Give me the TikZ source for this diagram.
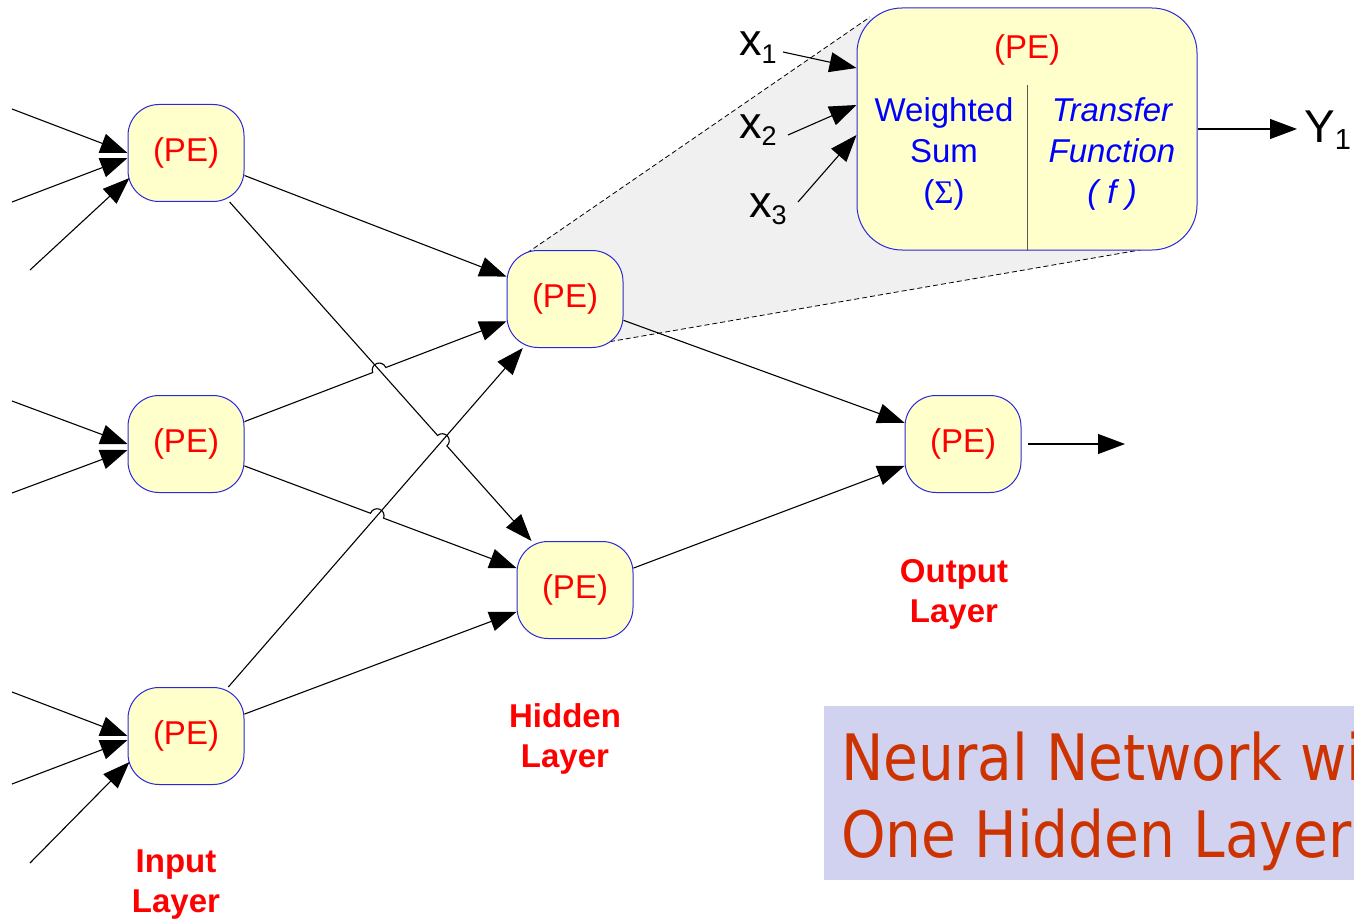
\documentclass[tikz,border=0pt]{standalone}
\usepackage{fontspec}
\setmainfont{Liberation Sans}
\newfontfamily\titlefont[FakeStretch=0.885]{DejaVu Sans}
\newfontfamily\serifsym{Liberation Serif}
\usetikzlibrary{arrows.meta,calc,intersections}
\definecolor{pefill}{RGB}{255,255,204}
\definecolor{peborder}{RGB}{40,40,220}
\definecolor{pered}{RGB}{255,0,0}
\definecolor{peblue}{RGB}{0,0,255}
\definecolor{zoomgray}{RGB}{240,240,240}
\definecolor{titlebg}{RGB}{208,210,240}
\definecolor{titlefg}{RGB}{204,51,0}
\definecolor{divider}{RGB}{90,90,80}
\begin{document}
\begin{tikzpicture}[x=1pt,y=1pt,
 pe/.style={draw=peborder, line width=1pt, fill=pefill, rounded corners=31pt, minimum width=116pt, minimum height=97pt, inner sep=0pt, text=pered, font=\fontsize{33}{33}\selectfont},
 bigpe/.style={draw=peborder, line width=1pt, fill=pefill, rounded corners=45pt, minimum width=340pt, minimum height=242pt, inner sep=0pt},
 conn/.style={line width=1.1pt, -{Triangle[length=27pt,width=20pt]}},
 layerlbl/.style={text=pered, font=\fontsize{33}{33}\selectfont\bfseries, anchor=base, inner sep=0pt},
 bluetxt/.style={text=peblue, font=\fontsize{33}{33}\selectfont, anchor=base, inner sep=0pt},
 bluetxtit/.style={bluetxt, font=\fontsize{33}{33}\selectfont\itshape},
 zoomline/.style={line width=0.8pt, dash pattern=on 5pt off 3pt},
 lbl/.style={anchor=base west, inner sep=0pt},
 titletxt/.style={anchor=base west, inner sep=0pt, text=titlefg, font=\titlefont\fontsize{64}{64}\selectfont}
]
\useasboundingbox (0,0) rectangle (1354,-920);

% zoom wedge
\coordinate (z1) at (527,-253);
\coordinate (z2) at (870,-17);
\coordinate (z3) at (1163,-246);
\coordinate (z4) at (602,-343);
\fill[zoomgray] (z1) -- (z2) -- (z3) -- (z4) -- cycle;
\draw[zoomline] (z1) -- (z2);
\draw[zoomline] (z4) -- (z3);

% nodes
\node[pe] (I1) at (186,-153) {(PE)};
\node[pe] (I2) at (186,-444) {(PE)};
\node[pe] (I3) at (186,-736) {(PE)};
\node[pe] (H1) at (565,-299) {(PE)};
\node[pe] (H2) at (575,-590) {(PE)};
\node[pe] (O) at (963,-444) {(PE)};
\node[bigpe] (BP) at (1027,-129) {};

% big PE contents
\node[text=pered, font=\fontsize{33}{33}\selectfont, anchor=base, inner sep=0pt] (bpt) at (1027,-59) {(PE)};
\node[bluetxt] (w1) at (944,-122) {Weighted};
\node[bluetxt] (w2) at (944,-163) {Sum};
\node[bluetxt] (w3) at (944,-204) {({\serifsym Σ})};
\node[bluetxtit] (f1) at (1112,-122) {Transfer};
\node[bluetxtit] (f2) at (1112,-163) {Function};
\node[bluetxtit] (f3) at (1112,-204) {( f )};
\draw[divider, line width=1pt] ([yshift=-78pt]BP.north) -- (BP.south);

% input arrows
\coordinate (a1) at (12,-109);
\coordinate (a2) at (12,-202);
\coordinate (a3) at (30,-270);
\coordinate (b1) at (12,-401);
\coordinate (b2) at (12,-493);
\coordinate (c1) at (12,-692);
\coordinate (c2) at (12,-784);
\coordinate (c3) at (30,-863);
\draw[conn] (a1) -- (I1.west);
\draw[conn] (a2) -- ([yshift=-5pt]I1.west);
\draw[conn] (a3) -- ([shift={(2pt,-25pt)}]I1.west);
\draw[conn] (b1) -- (I2.west);
\draw[conn] (b2) -- ([yshift=-6pt]I2.west);
\draw[conn] (c1) -- (I3.west);
\draw[conn] (c2) -- ([yshift=-4pt]I3.west);
\draw[conn] (c3) -- ([shift={(2pt,-26pt)}]I3.west);

% crossings
\path[name path=pA] (I2) -- (H1);
\path[name path=pB] (I1) -- (H2);
\path[name path=pC] (I3) -- (H1);
\path[name path=pD] (I2) -- (H2);
\path[name intersections={of=pA and pB, by=xAB}];
\path[name intersections={of=pB and pC, by=xBC}];
\path[name intersections={of=pD and pC, by=xDC}];

% connectors
\draw[conn] (I1) -- (H1);
\draw[conn] (I3) -- (H1);
\draw[conn] (I3) -- (H2);
\draw[conn] let \p1=($(H1)-(I2)$), \n1={atan2(\y1,\x1)} in
  (I2) -- ($(xAB)!7pt!(I2)$) arc[start angle=\n1+180, delta angle=-180, radius=7pt] -- (H1);
\draw[conn] let \p1=($(H2)-(I1)$), \n1={atan2(\y1,\x1)} in
  (I1) -- ($(xBC)!7pt!(I1)$) arc[start angle=\n1+180, delta angle=-180, radius=7pt] -- (H2);
\draw[conn] let \p1=($(H2)-(I2)$), \n1={atan2(\y1,\x1)} in
  (I2) -- ($(xDC)!7pt!(I2)$) arc[start angle=\n1+180, delta angle=-180, radius=7pt] -- (H2);
\draw[conn] (H1) -- (O);
\draw[conn] (H2) -- (O);
\coordinate (oend) at (1125,-444);
\draw[conn] ([xshift=6pt]O.east) -- (oend);

% zoomed PE inputs and output
\node[lbl] (x1) at (739,-56) {\fontsize{45}{45}\selectfont x\raisebox{-8pt}{\fontsize{27}{27}\selectfont 1}};
\node[lbl] (x2) at (739,-139) {\fontsize{45}{45}\selectfont x\raisebox{-7pt}{\fontsize{27}{27}\selectfont 2}};
\node[lbl] (x3) at (749,-218) {\fontsize{45}{45}\selectfont x\raisebox{-6pt}{\fontsize{27}{27}\selectfont 3}};
\coordinate (x1s) at (783,-52);
\coordinate (x2s) at (788,-135);
\coordinate (x3s) at (798,-202);
\draw[conn] (x1s) -- ([yshift=61pt]BP.west);
\draw[conn] (x2s) -- ([yshift=24pt]BP.west);
\draw[conn] (x3s) -- ([yshift=-6pt]BP.west);
\coordinate (yend) at (1297,-129);
\draw[conn] (BP.east) -- (yend);
\node[lbl] (y1) at (1304,-143) {\fontsize{46}{46}\selectfont Y\raisebox{-7pt}{\fontsize{29}{29}\selectfont 1}};

% layer labels
\node[layerlbl] (inl1) at (176,-872) {Input};
\node[layerlbl] (inl2) at (176,-912) {Layer};
\node[layerlbl] (hl1) at (565,-727) {Hidden};
\node[layerlbl] (hl2) at (565,-767) {Layer};
\node[layerlbl] (ol1) at (954,-582) {Output};
\node[layerlbl] (ol2) at (954,-622) {Layer};

% title
\begin{scope}
\clip (824,-706) rectangle (1354,-880);
\fill[titlebg] (824,-706) rectangle (1354,-880);
\node[titletxt] (tt1) at (841,-780) {Neural Network with};
\node[titletxt] (tt2) at (841,-857) {One Hidden Layer};
\end{scope}
\end{tikzpicture}
\end{document}
